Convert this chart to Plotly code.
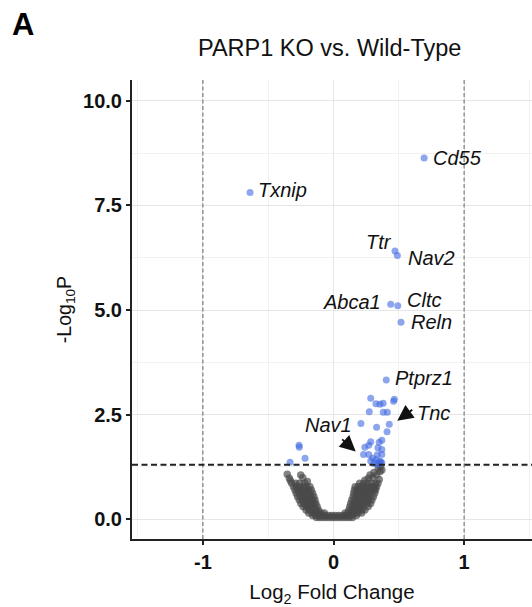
import plotly.graph_objects as go

# ---------------- data ----------------
# non-significant genes (grey cloud)
gray_fc = [
    -0.13, -0.105, -0.08, -0.055, -0.03, -0.005, 0.02, 0.045, 0.07, 0.095, 0.12, 0.145,
    -0.16, -0.135, -0.11, -0.085, -0.06, -0.035, -0.01, 0.015, 0.04, 0.065, 0.09, 0.115, 0.14, 0.175,
    -0.19, -0.165, -0.14, -0.115, -0.095, -0.07, 0.09, 0.112, 0.137, 0.162, 0.187, 0.215,
    -0.21, -0.185, -0.16, -0.135, -0.115, 0.118, 0.143, 0.168, 0.193, 0.218, 0.24,
    -0.233, -0.208, -0.183, -0.158, -0.125, 0.125, 0.15, 0.175, 0.2, 0.225, 0.265,
    -0.25, -0.225, -0.2, -0.175, -0.15, -0.135, 0.132, 0.157, 0.182, 0.207, 0.232, 0.257, 0.284,
    -0.262, -0.237, -0.212, -0.187, -0.162, -0.142, 0.14, 0.165, 0.19, 0.215, 0.24, 0.265, 0.294,
    -0.275, -0.25, -0.225, -0.2, -0.175, -0.15, 0.15, 0.175, 0.2, 0.225, 0.25, 0.275, 0.305,
    -0.285, -0.26, -0.235, -0.21, -0.185, -0.16, 0.155, 0.18, 0.205, 0.23, 0.255, 0.28, 0.315,
    -0.295, -0.27, -0.245, -0.22, -0.195, -0.17, 0.16, 0.185, 0.21, 0.235, 0.26, 0.285, 0.31, 0.322,
    -0.306, -0.28, -0.255, -0.23, -0.205, -0.18, 0.166, 0.19, 0.215, 0.24, 0.265, 0.29, 0.315, 0.33,
    -0.32, -0.29, -0.26, -0.22, 0.2, 0.23, 0.26, 0.29, 0.32, 0.34,
    -0.354, -0.338, -0.251, -0.235, -0.33, -0.2, 0.267, 0.28, 0.33, 0.356, 0.37, 0.343, 0.36, 0.3, 0.35, 0.24, 0.31,
]
gray_logp = [
    0.04, 0.04, 0.04, 0.04, 0.04, 0.04, 0.04, 0.04, 0.04, 0.04, 0.04, 0.04,
    0.09, 0.09, 0.09, 0.09, 0.09, 0.09, 0.09, 0.09, 0.09, 0.09, 0.09, 0.09, 0.09, 0.09,
    0.15, 0.15, 0.15, 0.15, 0.15, 0.15, 0.15, 0.15, 0.15, 0.15, 0.15, 0.15,
    0.22, 0.22, 0.22, 0.22, 0.22, 0.22, 0.22, 0.22, 0.22, 0.22, 0.22,
    0.30, 0.30, 0.30, 0.30, 0.30, 0.30, 0.30, 0.30, 0.30, 0.30, 0.30,
    0.38, 0.38, 0.38, 0.38, 0.38, 0.38, 0.38, 0.38, 0.38, 0.38, 0.38, 0.38, 0.38,
    0.46, 0.46, 0.46, 0.46, 0.46, 0.46, 0.46, 0.46, 0.46, 0.46, 0.46, 0.46, 0.46,
    0.54, 0.54, 0.54, 0.54, 0.54, 0.54, 0.54, 0.54, 0.54, 0.54, 0.54, 0.54, 0.54,
    0.62, 0.62, 0.62, 0.62, 0.62, 0.62, 0.62, 0.62, 0.62, 0.62, 0.62, 0.62, 0.62,
    0.70, 0.70, 0.70, 0.70, 0.70, 0.70, 0.70, 0.70, 0.70, 0.70, 0.70, 0.70, 0.70, 0.70,
    0.78, 0.78, 0.78, 0.78, 0.78, 0.78, 0.78, 0.78, 0.78, 0.78, 0.78, 0.78, 0.78, 0.78,
    0.86, 0.86, 0.86, 0.86, 0.86, 0.86, 0.86, 0.86, 0.86, 0.86,
    1.075, 0.98, 1.06, 0.99, 0.92, 0.90, 0.98, 1.06, 1.06, 1.14, 1.18, 1.22, 1.26, 1.00, 0.95, 0.93, 1.12,
]

# significant genes (blue, unlabeled)
sig_fc = [0.285, 0.466, 0.46, 0.325, 0.356, 0.38, 0.274, 0.381, 0.412, 0.21, 0.33, 0.427,
          0.41, 0.37, 0.35, 0.285, 0.27, 0.24, 0.34, 0.37, 0.23, 0.27, 0.335, 0.37,
          0.30, 0.325, 0.35, 0.36, 0.285, 0.37, 0.31, 0.34, 0.355,
          -0.333, -0.218, -0.264, -0.262]
sig_logp = [2.89, 2.87, 2.82, 2.76, 2.75, 2.77, 2.57, 2.56, 2.56, 2.29, 2.20, 2.27,
            2.09, 1.89, 1.84, 1.85, 1.77, 1.72, 1.71, 1.67, 1.55, 1.55, 1.54, 1.55,
            1.46, 1.42, 1.38, 1.38, 1.39, 1.35, 1.33, 1.32, 1.34,
            1.36, 1.46, 1.77, 1.72]

# labelled significant genes
label_genes = ["Cd55", "Txnip", "Ttr", "Nav2", "Abca1", "Cltc", "Reln", "Ptprz1"]
label_fc = [0.694, -0.639, 0.471, 0.489, 0.438, 0.492, 0.517, 0.404]
label_logp = [8.63, 7.81, 6.41, 6.30, 5.14, 5.10, 4.71, 3.33]

# arrow-annotated genes (arrow tip positions)
arrow_genes = ["Tnc", "Nav1"]
arrow_fc = [0.4885, 0.170]
arrow_logp = [2.355, 1.62]

p_cut = 1.30103   # -log10(0.05)
fc_cut = [-1, 1]

x_ticks = [-1, 0, 1]
x_ticktext = ["-1", "0", "1"]
y_ticks = [0, 2.5, 5, 7.5, 10]
y_ticktext = ["0.0", "2.5", "5.0", "7.5", "10.0"]

# ---------------- styling ----------------
FONT = "Liberation Sans, Arial, Helvetica, sans-serif"
GREY = "rgba(72,72,72,0.68)"
BLUE = "rgba(65,105,225,0.6)"
W, H = 532, 607
ML, MR, MT, MB = 132, 0, 80, 68

fig = go.Figure()
fig.add_trace(go.Scatter(x=gray_fc, y=gray_logp, mode="markers",
                         marker=dict(color=GREY, size=7.5, line=dict(width=0)),
                         hoverinfo="skip"))
fig.add_trace(go.Scatter(x=sig_fc + label_fc, y=sig_logp + label_logp, mode="markers",
                         marker=dict(color=BLUE, size=7, line=dict(width=0)),
                         hoverinfo="skip"))

# threshold lines
for v in fc_cut:
    fig.add_shape(type="line", xref="x", yref="paper", x0=v, x1=v, y0=0, y1=1,
                  line=dict(color="#666666", width=1, dash="4px,2.5px"))
fig.add_shape(type="line", xref="paper", yref="y", x0=0, x1=1, y0=p_cut, y1=p_cut,
              line=dict(color="#222222", width=2, dash="6px,3.5px"))

# gene labels
label_pos = {  # anchor, xshift, yshift (pixels)
    "Cd55": ("left", 8, 0),
    "Txnip": ("left", 7, 2),
    "Ttr": ("right", -2, 8.5),
    "Nav2": ("left", 10, -2.6),
    "Abca1": ("right", -9, 2.6),
    "Cltc": ("left", 8, 6),
    "Reln": ("left", 9, 0),
    "Ptprz1": ("left", 8, 1.7),
}
lab_font = dict(family=FONT, size=20, color="#111111")
for g, xv, yv in zip(label_genes, label_fc, label_logp):
    anc, xs, ys = label_pos[g]
    fig.add_annotation(x=xv, y=yv, text=f"<i>{g}</i>", showarrow=False,
                       xanchor=anc, yanchor="middle", xshift=xs, yshift=ys,
                       borderpad=0, font=lab_font)

arrow_pos = {  # tail offset (ax, ay), text anchor, text xshift, yshift
    "Tnc": (16.5, -12, "left", 19, 8),
    "Nav1": (-15, -13.5, "right", -2.5, 26.4),
}
for g, xv, yv in zip(arrow_genes, arrow_fc, arrow_logp):
    ax, ay, anc, xs, ys = arrow_pos[g]
    fig.add_annotation(x=xv, y=yv, text="", showarrow=True, ax=ax, ay=ay,
                       arrowhead=2, arrowsize=1.75, arrowwidth=1.8, arrowcolor="#111111",
                       standoff=0, startstandoff=0)
    fig.add_annotation(x=xv, y=yv, text=f"<i>{g}</i>", showarrow=False,
                       xanchor=anc, yanchor="middle", xshift=xs, yshift=ys,
                       borderpad=0, font=lab_font)

# panel letter
plot_h = H - MT - MB
fig.add_annotation(xref="paper", yref="paper", x=(10 - ML) / (W - ML - MR),
                   y=(H - MB - 24.5) / plot_h, text="<b>A</b>", showarrow=False,
                   xanchor="left", yanchor="middle",
                   font=dict(family=FONT, size=31, color="#000000"))

axis_common = dict(
    showline=True, linecolor="#222222", linewidth=2, mirror=False,
    ticks="outside", ticklen=4, tickwidth=1.5, tickcolor="#222222",
    tickfont=dict(family=FONT, size=20, color="#111111", weight="bold"),
    showgrid=True, gridcolor="#e6e6e6", gridwidth=1,
    zeroline=False, automargin=False,
)

fig.update_layout(
    width=W, height=H,
    margin=dict(l=ML, r=MR, t=MT, b=MB),
    paper_bgcolor="white", plot_bgcolor="white",
    showlegend=False,
    font=dict(family=FONT, color="#111111"),
    title=dict(text="PARP1 KO vs. Wild-Type", x=329.7 / W, xanchor="center",
               y=1 - 47.5 / H, yanchor="middle",
               font=dict(family=FONT, size=23.5, color="#111111")),
    xaxis=dict(range=[-1.543, 1.520], tickvals=x_ticks, ticktext=x_ticktext,
               minor=dict(tickvals=[-1.5, -0.5, 0.5, 1.5], showgrid=True,
                          gridcolor="#f2f2f2", gridwidth=1, ticks=""),
               title=dict(text="Log<sub>2</sub> Fold Change", standoff=13,
                          font=dict(family=FONT, size=20.5, color="#111111")),
               **axis_common),
    yaxis=dict(range=[-0.471, 10.495], tickvals=y_ticks, ticktext=y_ticktext,
               minor=dict(tickvals=[1.25, 3.75, 6.25, 8.75], showgrid=True,
                          gridcolor="#f2f2f2", gridwidth=1, ticks=""),
               title=dict(text="-Log<sub>10</sub>P", standoff=6,
                          font=dict(family=FONT, size=19.5, color="#111111")),
               **axis_common),
)

fig.write_html("out.html")
